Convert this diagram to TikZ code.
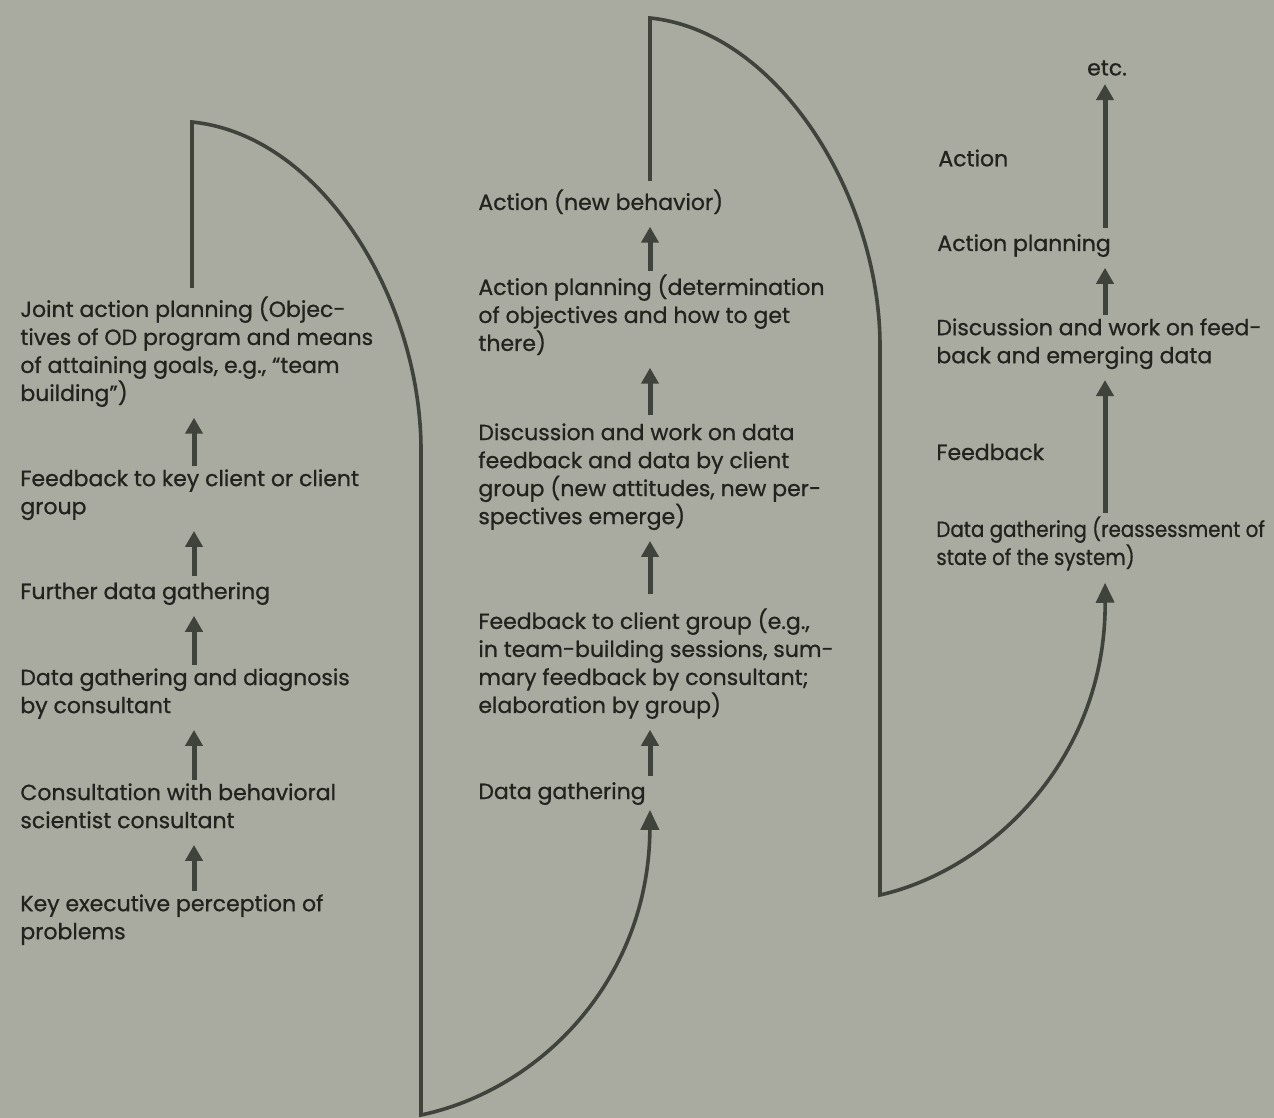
\documentclass[tikz,border=0pt]{standalone}
\usepackage{fontspec}
\setmainfont{Poppins}[FakeBold=0.8]
\newfontfamily\narrowfont{Poppins}[FakeBold=0.8, FakeStretch=0.9]
\usetikzlibrary{arrows.meta,calc}
\definecolor{paper}{RGB}{169,171,160}
\definecolor{ink}{RGB}{34,34,30}
\definecolor{pen}{RGB}{64,66,60}
\begin{document}
\begin{tikzpicture}[x=0.5pt,y=-0.5pt,
  txt/.style={anchor=north west, inner sep=0pt, align=left, text=ink,
    font=\fontsize{11}{14}\selectfont,
    execute at begin node=\strut, execute at end node=\strut},
  lbl/.style={inner sep=0pt, text=ink, font=\fontsize{11}{14}\selectfont},
  flow/.style={draw=pen, line width=2.5pt, -{Triangle[width=8.5pt,length=8pt]},
    shorten <=1.5pt, shorten >=4pt},
  loop/.style={draw=pen, line width=1.8pt, line join=miter},
  loopend/.style={loop, -{Triangle[width=9pt,length=10pt]}}
]
% paper
\fill[paper] (0,0) rectangle (1274,1118);
\useasboundingbox (0,0) rectangle (1274,1118);

% column axes
\coordinate (lx) at (194,0);
\coordinate (lv) at (192,0);
\coordinate (mx) at (650,0);
\coordinate (rx) at (1105,0);

% first cycle
\node[txt] (jap) at (20,296) {Joint action planning (Objec-\\tives of OD program and means\\of attaining goals, e.g., ``team\\building'')};
\node[txt] (fkc) at (20,469) {Feedback to key client or client\\group};
\node[txt] (fdg) at (20,579) {Further data gathering};
\node[txt] (dgd) at (20,668) {Data gathering and diagnosis\\by consultant};
\node[txt] (cbs) at (20,783) {Consultation with behavioral\\scientist consultant};
\node[txt] (kep) at (20,894) {Key executive perception of\\problems};

\draw[flow] (kep.north -| lx) -- (cbs.south -| lx);
\draw[flow] (cbs.north -| lx) -- (dgd.south -| lx);
\draw[flow] (dgd.north -| lx) -- (fdg.south -| lx);
\draw[flow] (fdg.north -| lx) -- (fkc.south -| lx);
\draw[flow] (fkc.north -| lx) -- (jap.south -| lx);

% second cycle
\node[txt] (act2) at (478,189) {Action (new behavior)};
\node[txt] (ap2) at (478,274) {Action planning (determination\\of objectives and how to get\\there)};
\node[txt] (disc2) at (478,423) {Discussion and work on data\\feedback and data by client\\group (new attitudes, new per-\\spectives emerge)};
\node[txt] (fb2) at (478,608) {Feedback to client group (e.g.,\\in team-building sessions, sum-\\mary feedback by consultant;\\elaboration by group)};
\node[txt] (dg2) at (478,779) {Data gathering};

\draw[flow] (dg2.north -| mx) -- (fb2.south -| mx);
\draw[flow, shorten <=7pt] (fb2.north -| mx) -- (disc2.south -| mx);
\draw[flow, shorten <=4pt] (disc2.north -| mx) -- (ap2.south -| mx);
\draw[flow] (ap2.north -| mx) -- (act2.south -| mx);

% third cycle
\node[lbl] (etc) at (1107,68) {etc.};
\node[txt] (ap3) at (937,231) {Action planning};
\node[txt] (disc3) at (936,318) {Discussion and work on feed-\\back and emerging data};
\node[txt, font=\narrowfont\fontsize{11}{14}\selectfont] (dg3) at (936,516) {Data gathering (reassessment of\\state of the system)};
\node[lbl, anchor=west] (act3) at (938,158) {Action};
\node[lbl, anchor=west] (fb3) at (936,452) {Feedback};

\draw[flow] (ap3.north -| rx) -- (etc.south -| rx);
\draw[flow] (disc3.north -| rx) -- (ap3.south -| rx);
\draw[flow] (dg3.north -| rx) -- (disc3.south -| rx);

% loops linking one cycle to the next
\coordinate (j0) at ([yshift=4pt]jap.north);
\coordinate (a0) at ([yshift=4pt]act2.north);
\draw[loopend, shorten >=1pt] (j0 -| lv) -- (192,122)
  .. controls (322,135) and (421,300) .. (421,450)
  -- (421,1115)
  .. controls (540,1090) and (649,980) .. (dg2.south -| mx);
\draw[loopend, shorten >=4.5pt] (a0 -| mx) -- (650,18)
  .. controls (778,31) and (880,196) .. (880,346)
  -- (880,895)
  .. controls (990,870) and (1106,760) .. (dg3.south -| rx);
\end{tikzpicture}
\end{document}
